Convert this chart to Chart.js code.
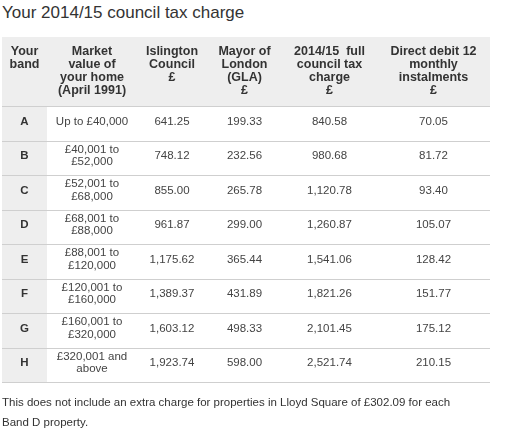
<!DOCTYPE html>
<html>
<head>
<meta charset="utf-8">
<script src="https://cdn.jsdelivr.net/npm/chart.js"></script>
<style>
  body { margin: 0; background: #fff; font-family: Arial, "Liberation Sans", sans-serif; }
  #wrap { position: relative; width: 513px; height: 437px; }
  #title { position: absolute; left: 2px; top: 3px; font-size: 17px; color: #333; }
  #note { position: absolute; left: 2px; top: 392px; width: 455px; font-size: 11.5px; line-height: 20px; color: #333; }
  canvas { position: absolute; left: 0; top: 0; }
</style>
</head>
<body>
<div id="wrap">
  <div id="title">Your 2014/15 council tax charge</div>
  <canvas id="c" width="513" height="437"></canvas>
  <div id="note">This does not include an extra charge for properties in Lloyd Square of £302.09 for each Band D property.</div>
</div>
<script>
// Table data
var headers = [
  ['Your', 'band'],
  ['Market', 'value of', 'your home', '(April 1991)'],
  ['Islington', 'Council', '£'],
  ['Mayor of', 'London', '(GLA)', '£'],
  ['2014/15  full', 'council tax', 'charge', '£'],
  ['Direct debit 12', 'monthly', 'instalments', '£']
];
var bands = ['A', 'B', 'C', 'D', 'E', 'F', 'G', 'H'];
var marketValues = [
  ['Up to £40,000'], ['£40,001 to', '£52,000'], ['£52,001 to', '£68,000'], ['£68,001 to', '£88,000'],
  ['£88,001 to', '£120,000'], ['£120,001 to', '£160,000'], ['£160,001 to', '£320,000'], ['£320,001 and', 'above']
];
var islington = [641.25, 748.12, 855.00, 961.87, 1175.62, 1389.37, 1603.12, 1923.74];
var mayor = [199.33, 232.56, 265.78, 299.00, 365.44, 431.89, 498.33, 598.00];
var fullCharge = [840.58, 980.68, 1120.78, 1260.87, 1541.06, 1821.26, 2101.45, 2521.74];
var directDebit = [70.05, 81.72, 93.40, 105.07, 128.42, 151.77, 175.12, 210.15];

// column edges in x-scale units
var colEdges = [0, 45, 135, 205, 280, 375, 488];
var HEADER_ROWS = 2;

var fmt = function(v) {
  return v.toLocaleString('en-GB', { minimumFractionDigits: 2, maximumFractionDigits: 2 });
};
var colCenter = function(i) { return (colEdges[i] + colEdges[i + 1]) / 2; };

// one point per cell (header cells anchored at their top)
var cells = [];
headers.forEach(function(h, i) {
  cells.push({ x: colCenter(i), y: 0.43, lines: h, head: true });
});
bands.forEach(function(b, r) {
  var y = HEADER_ROWS + r + 0.45;
  var row = [[b], marketValues[r], [fmt(islington[r])], [fmt(mayor[r])], [fmt(fullCharge[r])], [fmt(directDebit[r])]];
  row.forEach(function(lines, i) {
    cells.push({ x: colCenter(i), y: y, lines: lines, head: false, band: i === 0 });
  });
});

var tablePlugin = {
  id: 'table',
  beforeDatasetsDraw: function(chart) {
    var ctx = chart.ctx, xs = chart.scales.x, ys = chart.scales.y;
    var left = xs.getPixelForValue(colEdges[0]), right = xs.getPixelForValue(colEdges[colEdges.length - 1]);
    ctx.save();
    ctx.fillStyle = '#eeeeee';
    ctx.fillRect(left, ys.getPixelForValue(0), right - left, ys.getPixelForValue(HEADER_ROWS) - ys.getPixelForValue(0));
    ctx.fillRect(left, ys.getPixelForValue(HEADER_ROWS), xs.getPixelForValue(colEdges[1]) - left,
      ys.getPixelForValue(HEADER_ROWS + bands.length) - ys.getPixelForValue(HEADER_ROWS));
    ctx.strokeStyle = '#cfcfcf';
    ctx.lineWidth = 1;
    for (var r = 0; r <= bands.length; r++) {
      var y = Math.round(ys.getPixelForValue(HEADER_ROWS + r)) + 0.5;
      ctx.beginPath(); ctx.moveTo(left, y); ctx.lineTo(right, y); ctx.stroke();
    }
    ctx.textAlign = 'center';
    ctx.textBaseline = 'middle';
    cells.forEach(function(c) {
      var px = xs.getPixelForValue(c.x), py = ys.getPixelForValue(c.y);
      var lh = c.head ? 13 : 12.5;
      ctx.font = (c.head || c.band ? 'bold ' : '') + (c.head ? '12.5px' : '11.5px') + ' Arial, "Liberation Sans", sans-serif';
      ctx.fillStyle = c.head || c.band ? '#333' : '#444';
      var top = c.head ? py : py - (c.lines.length - 1) * lh / 2;
      c.lines.forEach(function(t, k) { ctx.fillText(t, px, top + k * lh); });
    });
    ctx.restore();
  }
};

new Chart(document.getElementById('c'), {
  type: 'scatter',
  data: { datasets: [{ data: cells, pointRadius: 0 }] },
  options: {
    responsive: false,
    animation: false,
    layout: { padding: { left: 2, right: 23, top: 37, bottom: 55 } },
    plugins: { legend: { display: false }, tooltip: { enabled: false } },
    scales: {
      x: { type: 'linear', min: 0, max: 488, display: false },
      y: { type: 'linear', min: 0, max: HEADER_ROWS + bands.length, reverse: true, display: false }
    }
  },
  plugins: [tablePlugin]
});
</script>
</body>
</html>
